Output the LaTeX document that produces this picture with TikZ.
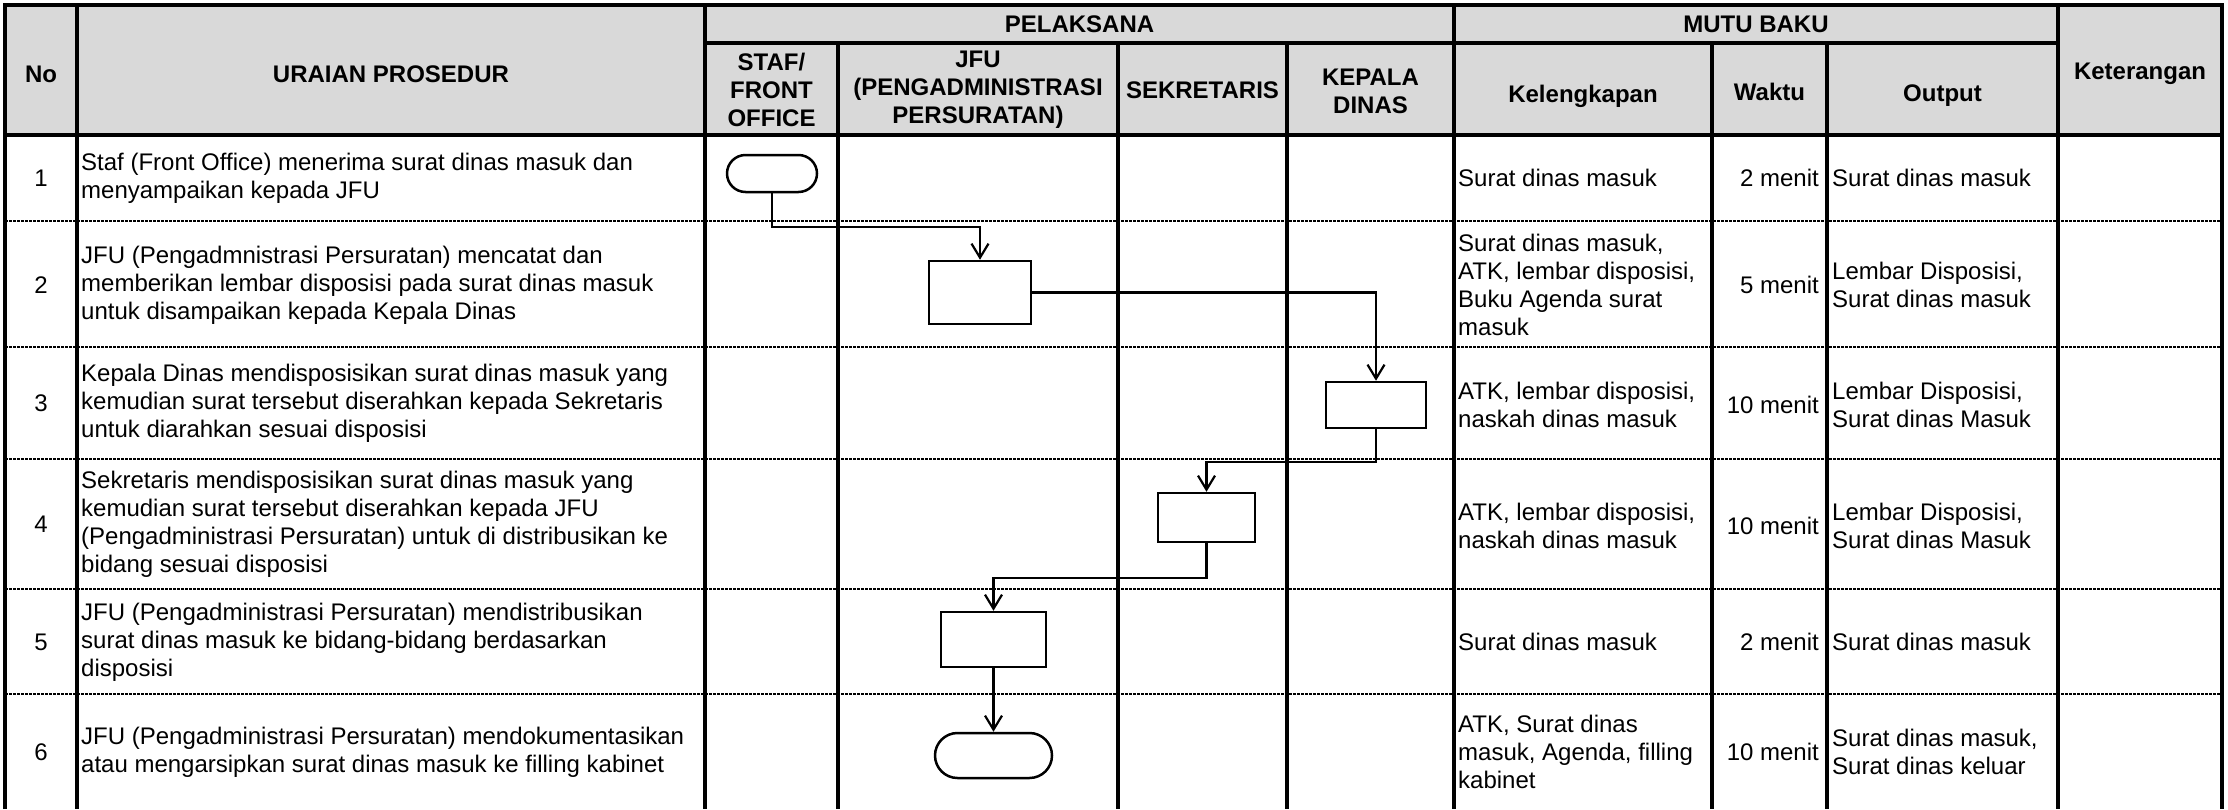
\documentclass[tikz,border=0pt]{standalone}
\usepackage{fontspec}
\setmainfont{Liberation Sans}
\usetikzlibrary{arrows.meta,shapes.misc}
\definecolor{hdrgray}{RGB}{217,217,217}
\begin{document}
\begin{tikzpicture}[x=1pt,y=-1pt,
  grid/.style={line width=3.2pt},
  sep/.style={line width=2.6pt, dash pattern=on 3pt off 1pt},
  txt/.style={font=\fontsize{24}{28}\selectfont, inner sep=0pt, align=left, anchor=west},
  num/.style={font=\fontsize{24}{28}\selectfont, inner sep=0pt},
  tm/.style={font=\fontsize{24}{28}\selectfont, inner sep=0pt, anchor=east},
  hd/.style={font=\fontsize{24}{28}\selectfont\bfseries, inner sep=0pt, align=center},
  proc/.style={draw, line width=2.5pt, inner sep=0pt},
  term/.style={draw, rounded rectangle, line width=2.5pt, inner sep=0pt},
  flow/.style={line width=2.2pt, -{Straight Barb[length=14pt,width=17pt,line width=2.2pt]}}
]
\useasboundingbox (0,0) rectangle (2228,809);
% header background
\fill[hdrgray] (5,5) rectangle (2222,135);
% grid
\draw[grid] (5,809) -- (5,5) -- (2222,5) -- (2222,809);
\draw[grid] (77,5) -- (77,809);
\draw[grid] (705,5) -- (705,809);
\draw[grid] (1454,5) -- (1454,809);
\draw[grid] (2058,5) -- (2058,809);
\foreach \x in {838,1118,1287,1712,1827} \draw[grid] (\x,43) -- (\x,809);
\draw[grid] (705,43) -- (2058,43);
\draw[grid] (5,135) -- (2222,135);
\foreach \y in {221,347,459,589,694} \draw[sep] (5,\y) -- (2222,\y);
% headers
\node[hd] (hNo) at (41,74) {No};
\node[hd] (hUr) at (391,74) {URAIAN PROSEDUR};
\node[hd] (hPel) at (1079.5,24) {PELAKSANA};
\node[hd] (hStaf) at (771.5,90) {STAF/\\FRONT\\OFFICE};
\node[hd] (hJfu) at (978,90) {JFU\\(PENGADMINISTRASI\\PERSURATAN)};
\node[hd] (hSek) at (1202.5,90) {SEKRETARIS};
\node[hd] (hKep) at (1370.5,91) {KEPALA\\DINAS};
\node[hd] (hMutu) at (1756,24) {MUTU BAKU};
\node[hd] (hKel) at (1583,96) {Kelengkapan};
\node[hd] (hWak) at (1769.5,92) {Waktu};
\node[hd] (hOut) at (1942.5,96) {Output};
\node[hd] (hKet) at (2140,74) {Keterangan};
% numbers
\node[num] (n1) at (41,178) {1};
\node[num] (n2) at (41,285) {2};
\node[num] (n3) at (41,403) {3};
\node[num] (n4) at (41,524) {4};
\node[num] (n5) at (41,642) {5};
\node[num] (n6) at (41,752) {6};
% procedure texts
\node[txt] (u1) at (81,178) {Staf (Front Office) menerima surat dinas masuk dan\\menyampaikan kepada JFU};
\node[txt] (u2) at (81,285) {JFU (Pengadmnistrasi Persuratan) mencatat dan\\memberikan lembar disposisi pada surat dinas masuk\\untuk disampaikan kepada Kepala Dinas};
\node[txt] (u3) at (81,403) {Kepala Dinas mendisposisikan surat dinas masuk yang\\kemudian surat tersebut diserahkan kepada Sekretaris\\untuk diarahkan sesuai disposisi};
\node[txt] (u4) at (81,524) {Sekretaris mendisposisikan surat dinas masuk yang\\kemudian surat tersebut diserahkan kepada JFU\\(Pengadministrasi Persuratan) untuk di distribusikan ke\\bidang sesuai disposisi};
\node[txt] (u5) at (81,642) {JFU (Pengadministrasi Persuratan) mendistribusikan\\surat dinas masuk ke bidang-bidang berdasarkan\\disposisi};
\node[txt] (u6) at (81,752) {JFU (Pengadministrasi Persuratan) mendokumentasikan\\atau mengarsipkan surat dinas masuk ke filling kabinet};
% kelengkapan
\node[txt] (k1) at (1458,178) {Surat dinas masuk};
\node[txt] (k2) at (1458,285) {Surat dinas masuk,\\ATK, lembar disposisi,\\Buku Agenda surat\\masuk};
\node[txt] (k3) at (1458,405) {ATK, lembar disposisi,\\naskah dinas masuk};
\node[txt] (k4) at (1458,526) {ATK, lembar disposisi,\\naskah dinas masuk};
\node[txt] (k5) at (1458,642) {Surat dinas masuk};
\node[txt] (k6) at (1458,752) {ATK, Surat dinas\\masuk, Agenda, filling\\kabinet};
% waktu
\node[tm] (w1) at (1819,178) {2 menit};
\node[tm] (w2) at (1819,285) {5 menit};
\node[tm] (w3) at (1819,405) {10 menit};
\node[tm] (w4) at (1819,526) {10 menit};
\node[tm] (w5) at (1819,642) {2 menit};
\node[tm] (w6) at (1819,752) {10 menit};
% output
\node[txt] (o1) at (1832,178) {Surat dinas masuk};
\node[txt] (o2) at (1832,285) {Lembar Disposisi,\\Surat dinas masuk};
\node[txt] (o3) at (1832,405) {Lembar Disposisi,\\Surat dinas Masuk};
\node[txt] (o4) at (1832,526) {Lembar Disposisi,\\Surat dinas Masuk};
\node[txt] (o5) at (1832,642) {Surat dinas masuk};
\node[txt] (o6) at (1832,752) {Surat dinas masuk,\\Surat dinas keluar};
% flow shapes
\node[term, minimum width=90pt, minimum height=37pt] (start) at (772,173.5) {};
\node[proc, minimum width=102pt, minimum height=63pt] (b2) at (980,292.5) {};
\node[proc, minimum width=100pt, minimum height=46pt] (b3) at (1376,405) {};
\node[proc, minimum width=97pt, minimum height=49pt] (b4) at (1206.5,517.5) {};
\node[proc, minimum width=105pt, minimum height=55pt] (b5) at (993.5,639.5) {};
\node[term, minimum width=117pt, minimum height=45pt] (end) at (993.5,755.5) {};
% connectors
\draw[flow] (start.south) -- ++(0,34) -| (b2.north);
\draw[flow] (b2.east) -| (b3.north);
\draw[flow] (b3.south) -- ++(0,33) -| (b4.north);
\draw[flow] (b4.south) -- ++(0,35) -| (b5.north);
\draw[flow] (b5.south) -- (end.north);
\end{tikzpicture}
\end{document}
